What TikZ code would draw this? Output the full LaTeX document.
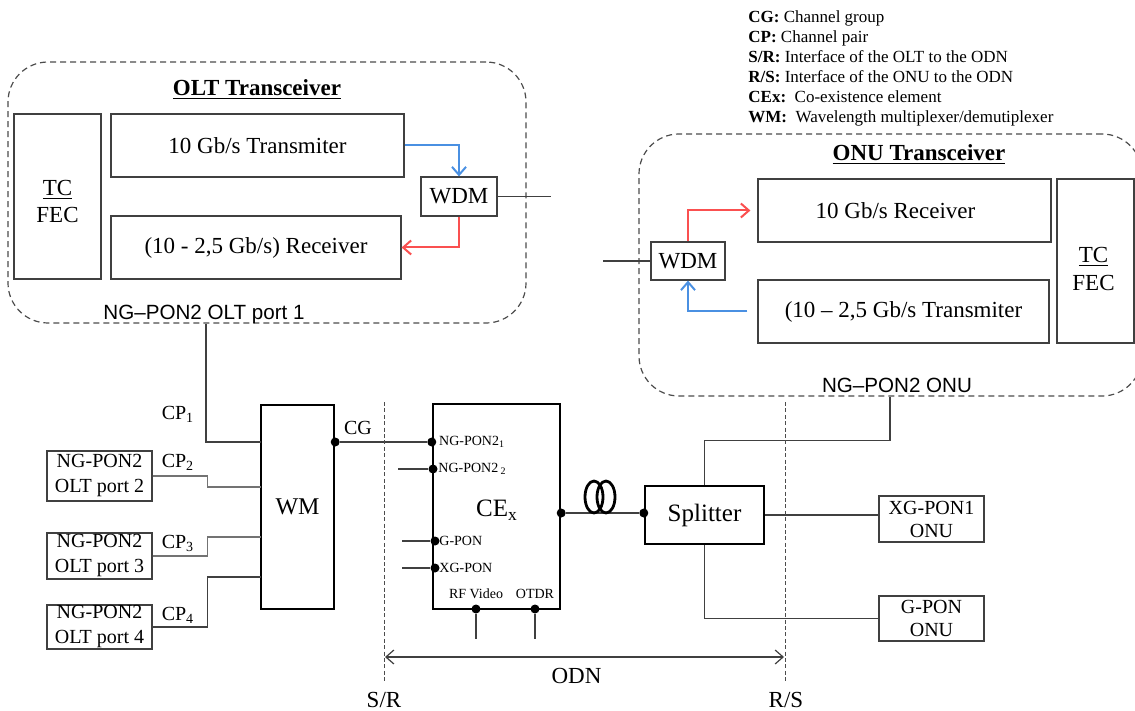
\documentclass[tikz,border=0pt]{standalone}
\usepackage{fontspec}
\setmainfont{Liberation Serif}
\newfontfamily\labelfont{Liberation Sans}
\usepackage{xcolor}
\usetikzlibrary{arrows.meta, positioning, calc}

\definecolor{upblue}{RGB}{74,144,226}
\definecolor{dnred}{RGB}{250,80,80}

\begin{document}
\begin{tikzpicture}[
    x=0.5pt, y=-0.5pt,
    font=\fontsize{11.5}{13.8}\selectfont,
    box/.style={rectangle, draw=black!75, line width=0.6pt, inner sep=0pt, align=center},
    heavybox/.style={rectangle, draw=black, line width=1.2pt, inner sep=0pt, align=center},
    portbox/.style={box, font=\fontsize{10}{12.5}\selectfont},
    group/.style={rectangle, draw=black!70, line width=0.6pt, dash pattern=on 3pt off 2pt, rounded corners=20pt, inner sep=0pt},
    grouplabel/.style={font=\labelfont\fontsize{10.3}{12}\selectfont, anchor=base, inner sep=0pt},
    title/.style={font=\fontsize{11.5}{13.8}\selectfont\bfseries},
    link/.style={draw=black!75, line width=0.6pt},
    dnlink/.style={draw=dnred, line width=1pt, -{Straight Barb[length=4pt, width=7pt]}},
    uplink/.style={draw=upblue, line width=1pt, -{Straight Barb[length=4pt, width=7pt]}},
    dot/.style={circle, fill=black, inner sep=0pt, minimum size=4.5pt},
    pin/.style={font=\fontsize{7}{8}\selectfont, inner sep=0.5pt},
    iface/.style={draw=black!70, line width=0.5pt, dash pattern=on 2pt off 1.2pt},
    odn/.style={draw=black!75, line width=0.6pt, {Straight Barb[length=4pt, width=7pt]}-{Straight Barb[length=4pt, width=7pt]}},
    tag/.style={font=\fontsize{10}{12}\selectfont, inner sep=0pt}
]
    \useasboundingbox (0,0) rectangle (1135,711);
    \clip (0,0) rectangle (1135,711);

    % Legend
    \node[anchor=north west, align=left, inner sep=0pt, font=\fontsize{8.5}{10}\selectfont] (legend) at (748,10)
        {\textbf{CG:} Channel group\\
         \textbf{CP:} Channel pair\\
         \textbf{S/R:} Interface of the OLT to the ODN\\
         \textbf{R/S:} Interface of the ONU to the ODN\\
         \textbf{CEx:}\ \ Co-existence element\\
         \textbf{WM:}\ \ Wavelength multiplexer/demutiplexer};

    % OLT transceiver
    \node[group, minimum width=259pt, minimum height=130.5pt] (olt) at (267,192.5) {};
    \node[title] (olttitle) at (257,90) {\underline{OLT Transceiver}};
    \node[box, minimum width=43.5pt, minimum height=82.5pt] (oltfec) at (57.5,196.5) {};
    \node[align=center] at ([yshift=-2.5pt]oltfec.center) {\underline{TC}\\FEC};
    \node[box, minimum width=146.5pt, minimum height=31.5pt] (olttx) at (257.5,145.5) {10 Gb/s Transmiter};
    \node[box, minimum width=145pt, minimum height=31.5pt] (oltrx) at (256,247.5) {(10 - 2,5 Gb/s) Receiver};
    \node[box, minimum width=38pt, minimum height=19.5pt] (oltwdm) at (459,196.5) {WDM};
    \coordinate (oltend) at (551,196.5);
    \node[grouplabel] (oltname) at (204,320) {NG–PON2 OLT port 1};

    \draw[uplink] (olttx.east) -| (oltwdm.north);
    \draw[dnlink] (oltwdm.south) |- (oltrx.east);
    \draw[link] (oltwdm.east) -- (oltend);

    % ONU transceiver
    \node[group, minimum width=251.5pt, minimum height=131pt] (onu) at (890.5,265) {};
    \node[title] (onutitle) at (919,155) {\underline{ONU Transceiver}};
    \node[box, minimum width=146.5pt, minimum height=31.5pt] (onurx) at (904.5,210.5) {};
    \node at ([xshift=-4.5pt]onurx.center) {10 Gb/s Receiver};
    \node[box, minimum width=145.5pt, minimum height=31.5pt] (onutx) at (903.5,311.5) {(10 – 2,5 Gb/s Transmiter};
    \node[box, minimum width=38.5pt, minimum height=82pt] (onufec) at (1095.5,261) {};
    \node[align=center] at ([xshift=-1pt, yshift=-4pt]onufec.center) {\underline{TC}\\FEC};
    \node[box, minimum width=37pt, minimum height=19pt] (onuwdm) at (688,261) {WDM};
    \coordinate (onuend) at (603,261);
    \node[grouplabel] (onuname) at (897,392) {NG–PON2 ONU};

    \draw[link] (onuend) -- (onuwdm.west);
    \draw[dnlink] (onuwdm.north) |- ([xshift=-3.5pt]onurx.west);
    \draw[uplink] ([xshift=-5pt]onutx.west) -| (onuwdm.south);

    % Wavelength multiplexer and OLT ports
    \node[heavybox, minimum width=36.5pt, minimum height=102pt, font=\fontsize{12}{14}\selectfont] (wm) at (297.5,507) {WM};
    \node[portbox, minimum width=52.5pt, minimum height=25pt] (port2) at (99.5,476) {NG-PON2\\OLT port 2};
    \node[portbox, minimum width=52.5pt, minimum height=23pt] (port3) at (99.5,556) {NG-PON2\\OLT port 3};
    \node[portbox, minimum width=52.5pt, minimum height=22pt] (port4) at (99.5,627) {NG-PON2\\OLT port 4};
    \coordinate (wm1) at (261,442);
    \coordinate (wm2) at (261,487);
    \coordinate (wm3) at (261,537);
    \coordinate (wm4) at (261,577);

    \draw[link] (olt.south -| 206,0) |- (wm1);
    \draw[link, draw=black!55] (port2.east) -- ++(55,0) |- (wm2);
    \draw[link, draw=black!55] (port3.east) -- ++(55,0) |- (wm3);
    \draw[link] (port4.east) -- ++(55,0) |- (wm4);

    \node[tag] (cp1) at (178,414) {CP\textsubscript{1}};
    \node[tag] (cp2) at (178,462) {CP\textsubscript{2}};
    \node[tag] (cp3) at (178,543) {CP\textsubscript{3}};
    \node[tag] (cp4) at (178,615) {CP\textsubscript{4}};

    % Co-existence element
    \node[heavybox, minimum width=63.5pt, minimum height=102.5pt] (ce) at (496.5,506.5) {};
    \node[font=\fontsize{12.5}{14}\selectfont] (cename) at (497,510) {CE\textsubscript{x}};
    \node[dot] (cgdot) at (wm.east |- wm1) {};
    \node[dot] (ng1) at (ce.west |- wm1) {};
    \node[dot] (ng2) at (433,469) {};
    \node[dot] (gpon) at (435,541) {};
    \node[dot] (xgpon) at (435,568) {};
    \node[dot] (rfvideo) at (476,609) {};
    \node[dot] (otdr) at (535,609) {};
    \node[dot] (ceout) at (ce.east |- 0,513) {};
    \node[tag] (cg) at (358,428) {CG};

    \draw[link] (cgdot) -- (ng1);
    \draw[link] (ng2) -- ++(-35,0);
    \draw[link] (gpon) -- ++(-33,0);
    \draw[link] (xgpon) -- ++(-33,0);
    \draw[link] (rfvideo) -- ++(0,30);
    \draw[link] (otdr) -- ++(0,30);

    \node[pin, anchor=west] at ([xshift=3pt]ng1.center) {NG-PON2\textsubscript{1}};
    \node[pin, anchor=west] at ([xshift=2pt]ng2.center) {NG-PON2\,\textsubscript{2}};
    \node[pin, anchor=west] at ([xshift=1.5pt]gpon.center) {G-PON};
    \node[pin, anchor=west] at ([xshift=1.5pt]xgpon.center) {XG-PON};
    \node[pin, above=2pt of rfvideo] {RF Video};
    \node[pin, above=2pt of otdr] {OTDR};

    % Fibre and splitter
    \node[heavybox, minimum width=59.5pt, minimum height=29pt, font=\fontsize{12.5}{14}\selectfont] (split) at (704.5,515) {Splitter};
    \node[dot] (splin) at (split.west |- ceout) {};
    \draw[link] (ceout) -- (splin);
    \draw[line width=1.4pt] (594,497) ellipse (9 and 16);
    \draw[line width=1.4pt] (606,497) ellipse (9 and 16);

    \node[portbox, minimum width=52.5pt, minimum height=23pt, font=\fontsize{10}{11.5}\selectfont] (xgonu) at (931.5,519) {XG-PON1\\ONU};
    \node[portbox, minimum width=52.5pt, minimum height=22.5pt, font=\fontsize{10}{11.5}\selectfont] (gonu) at (931.5,618.5) {G-PON\\ONU};

    \draw[link] (split.north) -- ++(0,-44) -| (onu.south -| 890,0);
    \draw[link] (split.east) -- (split.east -| xgonu.west);
    \draw[link] (split.south) |- (gonu.west);

    % Interfaces and ODN
    \node (sr) at (384,700) {S/R};
    \node (rs) at (786,700) {R/S};
    \coordinate (srtop) at (384,402);
    \coordinate (rstop) at (785,402);
    \draw[iface] (srtop) -- (srtop |- 0,682);
    \draw[iface] (rstop) -- (rstop |- 0,682);
    \coordinate (odnl) at (385,657);
    \coordinate (odnr) at (784,657);
    \draw[odn] (odnl) -- node[pos=0.48, below=2pt] {ODN} (odnr);
\end{tikzpicture}
\end{document}
